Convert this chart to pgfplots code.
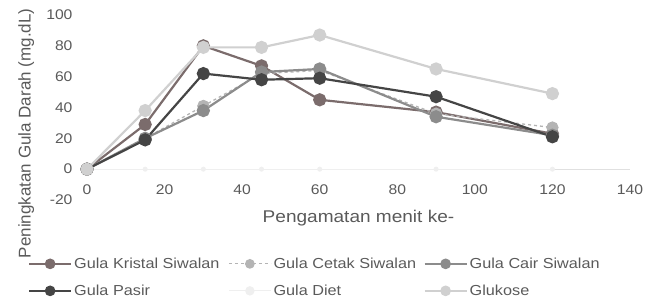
\documentclass[border=0pt]{standalone}
\usepackage{pgfplots}
\pgfplotsset{compat=1.18}
\usepackage{fontspec}
\setmainfont[FakeStretch=1.12]{Liberation Sans}
\newfontfamily\ylfont{Liberation Sans}
\definecolor{txt}{HTML}{5A5A5A}
\definecolor{ckristal}{HTML}{7B6C6C}
\definecolor{ccetak}{HTML}{B4B4B4}
\definecolor{ccair}{HTML}{8C8C8C}
\definecolor{cpasir}{HTML}{454545}
\definecolor{cdiet}{HTML}{EFEFEF}
\definecolor{cglu}{HTML}{D0D0D0}
\begin{document}
\begin{tikzpicture}
\path[use as bounding box] (0pt,0pt) rectangle (646pt,304pt);
\begin{axis}[
  at={(87pt,104pt)}, anchor=south west,
  scale only axis, width=543pt, height=185pt,
  xmin=0, xmax=140, ymin=-20, ymax=100,
  xtick={0,20,...,140}, ytick={-20,0,...,100},
  axis x line*=middle, axis y line*=left,
  hide obscured x ticks=false, hide obscured y ticks=false,
  x axis line style={draw=black!12, line width=0.8pt, -},
  y axis line style={draw=none},
  major tick length=0pt,
  tick label style={font=\fontsize{14}{16}\selectfont, text=txt},
  /pgf/number format/assume math mode=true,
  xticklabel style={yshift=-12pt},
  yticklabel style={xshift=-11pt},
  xlabel={Pengamatan menit ke-},
  xlabel style={at={(axis description cs:0.5,0)}, anchor=north, yshift=-7pt, font=\fontsize{17}{19}\selectfont, text=txt},
  ylabel={\ylfont Peningkatan Gula Darah (mg.dL)},
  ylabel style={at={(axis description cs:-0.112,0.36)}, anchor=center, rotate=0, font=\fontsize{17}{19}\selectfont, text=txt},
  legend columns=3,
  legend style={at={(axis description cs:-0.1145,-0.29)}, anchor=north west, draw=none, fill=none,
    font=\fontsize{14.5}{16}\selectfont, text=txt, row sep=11pt,
    /tikz/every even column/.append style={column sep=0pt}},
  legend cell align=left,
  legend image code/.code={\draw[mark repeat=2,mark phase=2,#1] plot coordinates {(0pt,0pt) (21pt,0pt) (42pt,0pt)};},
  legend image post style={mark size=4.2pt},
  every axis plot/.append style={line width=2.2pt, mark=*, mark size=5.5pt},
]
\addplot[color=ckristal, mark options={solid}] coordinates {(0,0) (15,29) (30,80) (45,67) (60,45) (90,37) (120,23)};
\addlegendentry{\makebox[152pt][l]{Gula Kristal Siwalan}}
\addplot[color=ccetak, dashed, line width=1.3pt, mark options={solid}] coordinates {(0,0) (15,20) (30,41) (45,62) (60,64) (90,36) (120,27)};
\addlegendentry{\makebox[148pt][l]{Gula Cetak Siwalan}}
\addplot[color=ccair, mark options={solid}] coordinates {(0,0) (15,20) (30,38) (45,63) (60,65) (90,34) (120,22)};
\addlegendentry{Gula Cair Siwalan}
\addplot[color=cpasir, mark options={solid}] coordinates {(0,0) (15,19) (30,62) (45,58) (60,59) (90,47) (120,21)};
\addlegendentry{\makebox[152pt][l]{Gula Pasir}}
\addplot[color=cdiet, line width=1pt, mark size=2pt, mark options={solid}] coordinates {(0,0) (15,0) (30,0) (45,0) (60,0) (90,0) (120,0)};
\addlegendentry{\makebox[148pt][l]{Gula Diet}}
\addplot[color=cglu, mark options={solid}] coordinates {(0,0) (15,38) (30,79) (45,79) (60,87) (90,65) (120,49)};
\addlegendentry{Glukose}
\end{axis}
\end{tikzpicture}
\end{document}
